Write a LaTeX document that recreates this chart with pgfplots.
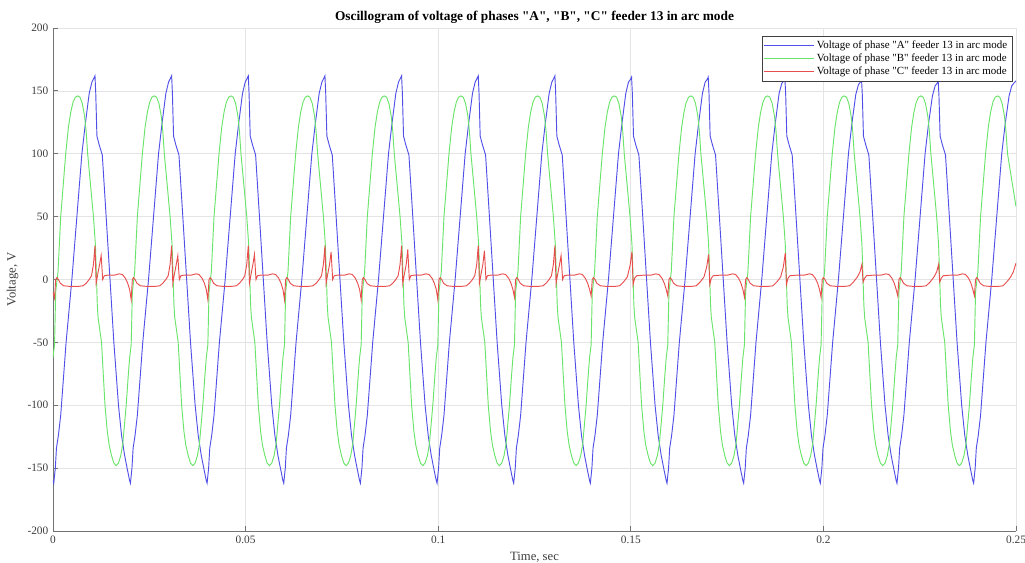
\documentclass[border=0pt]{standalone}
\usepackage{fontspec}
\setmainfont{Liberation Serif}[Ligatures=TeXOff]
\usepackage{pgfplots}
\pgfplotsset{compat=1.18}

\definecolor{phA}{RGB}{80,80,232}
\definecolor{phB}{RGB}{105,228,105}
\definecolor{phC}{RGB}{232,78,78}
\definecolor{gridc}{RGB}{228,228,228}
\definecolor{axc}{RGB}{115,115,115}
\definecolor{txt}{RGB}{60,60,60}

\begin{document}
\begin{tikzpicture}
\begin{axis}[
    scale only axis, width=722.25pt, height=377.25pt,
    xmin=0, xmax=0.25, ymin=-200, ymax=200,
    xtick={0,0.05,0.1,0.15,0.2,0.25},
    xticklabels={0,0.05,0.1,0.15,0.2,0.25},
    ytick={-200,-150,-100,-50,0,50,100,150,200},
    /pgf/number format/assume math mode=true,
    grid=major, major grid style={gridc, line width=0.5pt},
    axis x line*=bottom, axis y line*=left,
    axis line style={axc, line width=0.6pt},
    tick align=inside, major tick length=4pt, tick style={axc, line width=0.6pt},
    tick label style={font=\fontsize{8.5}{10}\selectfont, text=txt},
    title={Oscillogram of voltage of phases "A", "B", "C" feeder 13 in arc mode},
    title style={font=\bfseries\fontsize{10}{12}\selectfont, yshift=-6pt},
    xlabel={Time, sec}, ylabel={Voltage, V},
    label style={font=\fontsize{9.5}{11}\selectfont, text=txt},
    legend style={at={(0.996,0.984)}, anchor=north east, draw=black!75,
        font=\fontsize{8.2}{9.5}\selectfont, inner sep=1.5pt, row sep=-1.5pt},
    legend cell align=left,
    legend image code/.code={\draw[#1, line width=0.7pt] (0pt,0pt) -- (37pt,0pt);},
    every axis plot/.append style={line width=0.7pt},
]
% phase A
\addplot[phA] coordinates {
(0.0000,-160) (0.0002,-162) (0.0006,-150) (0.0009,-134) (0.0014,-124) (0.0020,-108) (0.0034,-50) (0.0049,0) (0.0062,50) (0.0075,100) (0.0084,124) (0.0094,148) (0.0101,157) (0.0106,160) (0.0109,162) (0.0111,148) (0.0114,114) (0.0120,107) (0.0128,99) (0.0138,50) (0.0148,0) (0.0158,-50) (0.0170,-100) (0.0178,-124) (0.0186,-140) (0.0193,-151) (0.0199,-160)
(0.0201,-162) (0.0205,-150) (0.0208,-134) (0.0213,-124) (0.0219,-108) (0.0233,-50) (0.0248,0) (0.0261,50) (0.0274,100) (0.0283,124) (0.0293,148) (0.0300,157) (0.0305,160) (0.0308,162) (0.0310,148) (0.0313,114) (0.0319,107) (0.0327,99) (0.0337,50) (0.0347,0) (0.0357,-50) (0.0369,-100) (0.0377,-124) (0.0385,-140) (0.0392,-151) (0.0398,-160)
(0.0400,-162) (0.0404,-150) (0.0407,-134) (0.0412,-124) (0.0418,-108) (0.0432,-50) (0.0447,0) (0.0460,50) (0.0473,100) (0.0482,124) (0.0492,148) (0.0499,157) (0.0504,160) (0.0507,162) (0.0509,148) (0.0512,114) (0.0518,107) (0.0526,99) (0.0536,50) (0.0546,0) (0.0556,-50) (0.0568,-100) (0.0576,-124) (0.0584,-140) (0.0591,-151) (0.0597,-160)
(0.0599,-162) (0.0603,-150) (0.0606,-134) (0.0611,-124) (0.0617,-108) (0.0631,-50) (0.0646,0) (0.0659,50) (0.0672,100) (0.0681,124) (0.0691,148) (0.0698,157) (0.0703,160) (0.0706,162) (0.0708,148) (0.0711,114) (0.0717,107) (0.0725,99) (0.0735,50) (0.0745,0) (0.0755,-50) (0.0767,-100) (0.0775,-124) (0.0783,-140) (0.0790,-151) (0.0796,-160)
(0.0798,-162) (0.0802,-150) (0.0805,-134) (0.0810,-124) (0.0816,-108) (0.0830,-50) (0.0845,0) (0.0858,50) (0.0871,100) (0.0880,124) (0.0890,148) (0.0897,157) (0.0902,160) (0.0905,162) (0.0907,148) (0.0910,114) (0.0916,107) (0.0924,99) (0.0934,50) (0.0944,0) (0.0954,-50) (0.0966,-100) (0.0974,-124) (0.0982,-140) (0.0989,-151) (0.0995,-160)
(0.0997,-162) (0.1001,-150) (0.1004,-134) (0.1009,-124) (0.1015,-108) (0.1029,-50) (0.1044,0) (0.1057,50) (0.1070,100) (0.1079,124) (0.1089,148) (0.1096,157) (0.1101,160) (0.1104,162) (0.1106,148) (0.1109,114) (0.1115,107) (0.1123,99) (0.1133,50) (0.1143,0) (0.1153,-50) (0.1165,-100) (0.1173,-124) (0.1181,-140) (0.1188,-151) (0.1194,-160)
(0.1196,-162) (0.1200,-150) (0.1203,-134) (0.1208,-124) (0.1214,-108) (0.1228,-50) (0.1243,0) (0.1256,50) (0.1269,100) (0.1278,124) (0.1288,148) (0.1295,157) (0.1300,160) (0.1303,162) (0.1305,148) (0.1308,114) (0.1314,107) (0.1322,99) (0.1332,50) (0.1342,0) (0.1352,-50) (0.1364,-100) (0.1372,-124) (0.1380,-140) (0.1387,-151) (0.1393,-160)
(0.1395,-162) (0.1399,-150) (0.1402,-134) (0.1407,-124) (0.1413,-108) (0.1427,-50) (0.1442,0) (0.1455,50) (0.1468,100) (0.1477,124) (0.1487,148) (0.1494,157) (0.1499,159) (0.1502,161) (0.1504,148) (0.1507,114) (0.1513,107) (0.1521,99) (0.1531,50) (0.1541,0) (0.1551,-50) (0.1563,-100) (0.1571,-124) (0.1579,-140) (0.1586,-151) (0.1592,-160)
(0.1594,-162) (0.1598,-150) (0.1601,-134) (0.1606,-124) (0.1612,-108) (0.1626,-50) (0.1641,0) (0.1654,50) (0.1667,100) (0.1676,124) (0.1686,148) (0.1693,157) (0.1698,159) (0.1701,161) (0.1703,148) (0.1706,114) (0.1712,107) (0.1720,99) (0.1730,50) (0.1740,0) (0.1750,-50) (0.1762,-100) (0.1770,-124) (0.1778,-140) (0.1785,-151) (0.1791,-160)
(0.1793,-162) (0.1797,-150) (0.1800,-134) (0.1805,-124) (0.1811,-108) (0.1825,-50) (0.1840,0) (0.1853,50) (0.1866,100) (0.1875,124) (0.1885,148) (0.1892,156) (0.1897,158) (0.1900,160) (0.1902,148) (0.1905,114) (0.1911,107) (0.1919,99) (0.1929,50) (0.1939,0) (0.1949,-50) (0.1961,-100) (0.1969,-124) (0.1977,-140) (0.1984,-151) (0.1990,-160)
(0.1992,-162) (0.1996,-150) (0.1999,-134) (0.2004,-124) (0.2010,-108) (0.2024,-50) (0.2039,0) (0.2052,50) (0.2065,100) (0.2074,124) (0.2084,147) (0.2091,155) (0.2096,157) (0.2099,159) (0.2101,147) (0.2104,114) (0.2110,107) (0.2118,99) (0.2128,50) (0.2138,0) (0.2148,-50) (0.2160,-100) (0.2168,-124) (0.2176,-140) (0.2183,-151) (0.2189,-160)
(0.2191,-162) (0.2195,-150) (0.2198,-134) (0.2203,-124) (0.2209,-108) (0.2223,-50) (0.2238,0) (0.2251,50) (0.2264,100) (0.2273,124) (0.2283,146) (0.2290,154) (0.2295,156) (0.2298,158) (0.2300,146) (0.2303,114) (0.2309,107) (0.2317,99) (0.2327,50) (0.2337,0) (0.2347,-50) (0.2359,-100) (0.2367,-124) (0.2375,-140) (0.2382,-151) (0.2388,-160)
(0.2390,-162) (0.2394,-150) (0.2397,-134) (0.2402,-124) (0.2408,-108) (0.2422,-50) (0.2437,0) (0.2450,50) (0.2463,100) (0.2472,124) (0.2482,146) (0.2489,154) (0.2494,156) (0.2500,158)
};
\addlegendentry{Voltage of phase "A" feeder 13 in arc mode}
% phase B
\addplot[phB] coordinates {
(0.0000,-62) (0.0004,-52) (0.0007,-10) (0.0010,-2) (0.0013,6) (0.0020,50) (0.0033,100) (0.0040,121) (0.0046,133) (0.0052,141) (0.0058,145) (0.0064,146) (0.0070,145) (0.0076,140) (0.0082,130) (0.0086,118) (0.0090,100) (0.0105,50) (0.0110,28) (0.0112,10) (0.0115,-20) (0.0117,-30) (0.0126,-50) (0.0131,-78) (0.0135,-100) (0.0141,-121) (0.0146,-132) (0.0152,-140) (0.0158,-146) (0.0164,-148) (0.0170,-146) (0.0176,-140) (0.0181,-131) (0.0184,-121) (0.0190,-100) (0.0195,-78)
(0.0199,-62) (0.0203,-52) (0.0206,-10) (0.0209,-2) (0.0212,6) (0.0219,50) (0.0232,100) (0.0239,121) (0.0245,133) (0.0251,141) (0.0257,145) (0.0263,146) (0.0269,145) (0.0275,140) (0.0281,130) (0.0285,118) (0.0289,100) (0.0304,50) (0.0309,28) (0.0311,10) (0.0314,-20) (0.0316,-30) (0.0325,-50) (0.0330,-78) (0.0334,-100) (0.0340,-121) (0.0345,-132) (0.0351,-140) (0.0357,-146) (0.0363,-148) (0.0369,-146) (0.0375,-140) (0.0380,-131) (0.0383,-121) (0.0389,-100) (0.0394,-78)
(0.0398,-62) (0.0402,-52) (0.0405,-10) (0.0408,-2) (0.0411,6) (0.0418,50) (0.0431,100) (0.0438,121) (0.0444,133) (0.0450,141) (0.0456,145) (0.0462,146) (0.0468,145) (0.0474,140) (0.0480,130) (0.0484,118) (0.0488,100) (0.0503,50) (0.0508,28) (0.0510,10) (0.0513,-20) (0.0515,-30) (0.0524,-50) (0.0529,-78) (0.0533,-100) (0.0539,-121) (0.0544,-132) (0.0550,-140) (0.0556,-146) (0.0562,-148) (0.0568,-146) (0.0574,-140) (0.0579,-131) (0.0582,-121) (0.0588,-100) (0.0593,-78)
(0.0597,-62) (0.0601,-52) (0.0604,-10) (0.0607,-2) (0.0610,6) (0.0617,50) (0.0630,100) (0.0637,121) (0.0643,133) (0.0649,141) (0.0655,145) (0.0661,146) (0.0667,145) (0.0673,140) (0.0679,130) (0.0683,118) (0.0687,100) (0.0702,50) (0.0707,28) (0.0709,10) (0.0712,-20) (0.0714,-30) (0.0723,-50) (0.0728,-78) (0.0732,-100) (0.0738,-121) (0.0743,-132) (0.0749,-140) (0.0755,-146) (0.0761,-148) (0.0767,-146) (0.0773,-140) (0.0778,-131) (0.0781,-121) (0.0787,-100) (0.0792,-78)
(0.0796,-62) (0.0800,-52) (0.0803,-10) (0.0806,-2) (0.0809,6) (0.0816,50) (0.0829,100) (0.0836,121) (0.0842,133) (0.0848,141) (0.0854,145) (0.0860,146) (0.0866,145) (0.0872,140) (0.0878,130) (0.0882,118) (0.0886,100) (0.0901,50) (0.0906,28) (0.0908,10) (0.0911,-20) (0.0913,-30) (0.0922,-50) (0.0927,-78) (0.0931,-100) (0.0937,-121) (0.0942,-132) (0.0948,-140) (0.0954,-146) (0.0960,-148) (0.0966,-146) (0.0972,-140) (0.0977,-131) (0.0980,-121) (0.0986,-100) (0.0991,-78)
(0.0995,-62) (0.0999,-52) (0.1002,-10) (0.1005,-2) (0.1008,6) (0.1015,50) (0.1028,100) (0.1035,121) (0.1041,133) (0.1047,141) (0.1053,145) (0.1059,146) (0.1065,145) (0.1071,140) (0.1077,130) (0.1081,118) (0.1085,100) (0.1100,50) (0.1105,28) (0.1107,10) (0.1110,-20) (0.1112,-30) (0.1121,-50) (0.1126,-78) (0.1130,-100) (0.1136,-121) (0.1141,-132) (0.1147,-140) (0.1153,-146) (0.1159,-148) (0.1165,-146) (0.1171,-140) (0.1176,-131) (0.1179,-121) (0.1185,-100) (0.1190,-78)
(0.1194,-62) (0.1198,-52) (0.1201,-10) (0.1204,-2) (0.1207,6) (0.1214,50) (0.1227,100) (0.1234,121) (0.1240,133) (0.1246,141) (0.1252,145) (0.1258,146) (0.1264,145) (0.1270,140) (0.1276,130) (0.1280,118) (0.1284,100) (0.1299,50) (0.1304,28) (0.1306,10) (0.1309,-20) (0.1311,-30) (0.1320,-50) (0.1325,-78) (0.1329,-100) (0.1335,-121) (0.1340,-132) (0.1346,-140) (0.1352,-146) (0.1358,-148) (0.1364,-146) (0.1370,-140) (0.1375,-131) (0.1378,-121) (0.1384,-100) (0.1389,-78)
(0.1393,-62) (0.1397,-52) (0.1400,-10) (0.1403,-2) (0.1406,6) (0.1413,50) (0.1426,100) (0.1433,121) (0.1439,133) (0.1445,141) (0.1451,145) (0.1457,146) (0.1463,145) (0.1469,140) (0.1475,130) (0.1479,118) (0.1483,100) (0.1498,50) (0.1503,28) (0.1505,10) (0.1508,-20) (0.1510,-30) (0.1519,-50) (0.1524,-78) (0.1528,-100) (0.1534,-121) (0.1539,-132) (0.1545,-140) (0.1551,-146) (0.1557,-148) (0.1563,-146) (0.1569,-140) (0.1574,-131) (0.1577,-121) (0.1583,-100) (0.1588,-78)
(0.1592,-62) (0.1596,-52) (0.1599,-10) (0.1602,-2) (0.1605,6) (0.1612,50) (0.1625,100) (0.1632,121) (0.1638,133) (0.1644,141) (0.1650,145) (0.1656,146) (0.1662,145) (0.1668,140) (0.1674,130) (0.1678,118) (0.1682,100) (0.1697,50) (0.1702,28) (0.1704,10) (0.1707,-20) (0.1709,-30) (0.1718,-50) (0.1723,-78) (0.1727,-100) (0.1733,-121) (0.1738,-132) (0.1744,-140) (0.1750,-146) (0.1756,-148) (0.1762,-146) (0.1768,-140) (0.1773,-131) (0.1776,-121) (0.1782,-100) (0.1787,-78)
(0.1791,-62) (0.1795,-52) (0.1798,-10) (0.1801,-2) (0.1804,6) (0.1811,50) (0.1824,100) (0.1831,121) (0.1837,133) (0.1843,141) (0.1849,145) (0.1855,146) (0.1861,145) (0.1867,140) (0.1873,130) (0.1877,118) (0.1881,100) (0.1896,50) (0.1901,28) (0.1903,10) (0.1906,-20) (0.1908,-30) (0.1917,-50) (0.1922,-78) (0.1926,-100) (0.1932,-121) (0.1937,-132) (0.1943,-140) (0.1949,-146) (0.1955,-148) (0.1961,-146) (0.1967,-140) (0.1972,-131) (0.1975,-121) (0.1981,-100) (0.1986,-78)
(0.1990,-62) (0.1994,-52) (0.1997,-10) (0.2000,-2) (0.2003,6) (0.2010,50) (0.2023,100) (0.2030,121) (0.2036,133) (0.2042,141) (0.2048,145) (0.2054,146) (0.2060,145) (0.2066,140) (0.2072,130) (0.2076,118) (0.2080,100) (0.2095,50) (0.2100,28) (0.2102,10) (0.2105,-20) (0.2107,-30) (0.2116,-50) (0.2121,-78) (0.2125,-100) (0.2131,-121) (0.2136,-132) (0.2142,-140) (0.2148,-146) (0.2154,-148) (0.2160,-146) (0.2166,-140) (0.2171,-131) (0.2174,-121) (0.2180,-100) (0.2185,-78)
(0.2189,-62) (0.2193,-52) (0.2196,-10) (0.2199,-2) (0.2202,6) (0.2209,50) (0.2222,100) (0.2229,121) (0.2235,133) (0.2241,141) (0.2247,145) (0.2253,146) (0.2259,145) (0.2265,140) (0.2271,130) (0.2275,118) (0.2279,100) (0.2294,50) (0.2299,28) (0.2301,10) (0.2304,-20) (0.2306,-30) (0.2315,-50) (0.2320,-78) (0.2324,-100) (0.2330,-121) (0.2335,-132) (0.2341,-140) (0.2347,-146) (0.2353,-148) (0.2359,-146) (0.2365,-140) (0.2370,-131) (0.2373,-121) (0.2379,-100) (0.2384,-78)
(0.2388,-62) (0.2392,-52) (0.2395,-10) (0.2398,-2) (0.2401,6) (0.2408,50) (0.2421,100) (0.2428,121) (0.2434,133) (0.2440,141) (0.2446,145) (0.2452,146) (0.2458,145) (0.2464,140) (0.2470,130) (0.2474,118) (0.2478,100) (0.2500,58)
};
\addlegendentry{Voltage of phase "B" feeder 13 in arc mode}
% phase C
\addplot[phC] coordinates {
(0.0000,-10) (0.0004,-15) (0.0007,0) (0.0010,1.5) (0.0014,0) (0.0019,-3) (0.0028,-5) (0.0045,-5.5) (0.0065,-5.5) (0.0078,-5) (0.0086,-3) (0.0094,0) (0.0100,3) (0.0105,12) (0.0109,27) (0.0112,-3) (0.0116,4) (0.0121,12) (0.0125,19) (0.0129,0) (0.0133,3) (0.0142,3.5) (0.0160,3.5) (0.0172,4.5) (0.0180,4) (0.0188,1) (0.0194,-3)
(0.0199,-8) (0.0203,-16) (0.0206,0) (0.0209,1.5) (0.0213,0) (0.0218,-3) (0.0227,-5) (0.0244,-5.5) (0.0264,-5.5) (0.0277,-5) (0.0285,-3) (0.0293,0) (0.0299,3) (0.0304,12) (0.0308,27) (0.0311,-3) (0.0315,4) (0.0320,12) (0.0324,19) (0.0328,0) (0.0332,3) (0.0341,3.5) (0.0359,3.5) (0.0371,4.5) (0.0379,4) (0.0387,1) (0.0393,-3)
(0.0398,-8) (0.0402,-16) (0.0405,0) (0.0408,1.5) (0.0412,0) (0.0417,-3) (0.0426,-5) (0.0443,-5.5) (0.0463,-5.5) (0.0476,-5) (0.0484,-3) (0.0492,0) (0.0498,3) (0.0503,12) (0.0507,27) (0.0510,-3) (0.0514,4) (0.0519,12) (0.0523,20) (0.0527,0) (0.0531,3) (0.0540,3.5) (0.0558,3.5) (0.0570,4.5) (0.0578,4) (0.0586,1) (0.0592,-3)
(0.0597,-8) (0.0601,-16) (0.0604,0) (0.0607,1.5) (0.0611,0) (0.0616,-3) (0.0625,-5) (0.0642,-5.5) (0.0662,-5.5) (0.0675,-5) (0.0683,-3) (0.0691,0) (0.0697,3) (0.0702,12) (0.0706,27) (0.0709,-3) (0.0713,4) (0.0718,12) (0.0722,22) (0.0726,0) (0.0730,3) (0.0739,3.5) (0.0757,3.5) (0.0769,4.5) (0.0777,4) (0.0785,1) (0.0791,-3)
(0.0796,-8) (0.0800,-16) (0.0803,0) (0.0806,1.5) (0.0810,0) (0.0815,-3) (0.0824,-5) (0.0841,-5.5) (0.0861,-5.5) (0.0874,-5) (0.0882,-3) (0.0890,0) (0.0896,3) (0.0901,12) (0.0905,27) (0.0908,-3) (0.0912,4) (0.0917,12) (0.0921,24) (0.0925,0) (0.0929,3) (0.0938,3.5) (0.0956,3.5) (0.0968,4.5) (0.0976,4) (0.0984,1) (0.0990,-3)
(0.0995,-8) (0.0999,-16) (0.1002,0) (0.1005,1.5) (0.1009,0) (0.1014,-3) (0.1023,-5) (0.1040,-5.5) (0.1060,-5.5) (0.1073,-5) (0.1081,-3) (0.1089,0) (0.1095,3) (0.1100,12) (0.1104,27) (0.1107,-3) (0.1111,4) (0.1116,12) (0.1120,23) (0.1124,0) (0.1128,3) (0.1137,3.5) (0.1155,3.5) (0.1167,4.5) (0.1175,4) (0.1183,1) (0.1189,-3)
(0.1194,-8) (0.1198,-14) (0.1201,0) (0.1204,1.5) (0.1208,0) (0.1213,-3) (0.1222,-5) (0.1239,-5.5) (0.1259,-5.5) (0.1272,-5) (0.1280,-3) (0.1288,0) (0.1294,3) (0.1299,12) (0.1303,27) (0.1306,-3) (0.1310,4) (0.1315,12) (0.1319,19) (0.1323,0) (0.1327,3) (0.1336,3.5) (0.1354,3.5) (0.1366,4.5) (0.1374,4) (0.1382,1) (0.1388,-3)
(0.1393,-8) (0.1397,-13) (0.1400,0) (0.1403,1.5) (0.1407,0) (0.1412,-3) (0.1421,-5) (0.1438,-5.5) (0.1458,-5.5) (0.1471,-5) (0.1481,-2) (0.1491,2) (0.1498,11) (0.1503,22) (0.1506,-4) (0.1510,1) (0.1515,3) (0.1535,3.5) (0.1553,3.5) (0.1565,4.5) (0.1573,4) (0.1581,1) (0.1587,-3)
(0.1592,-8) (0.1596,-13) (0.1599,0) (0.1602,1.5) (0.1606,0) (0.1611,-3) (0.1620,-5) (0.1637,-5.5) (0.1657,-5.5) (0.1670,-5) (0.1680,-2) (0.1690,2) (0.1697,10) (0.1702,20) (0.1705,-4) (0.1709,1) (0.1714,3) (0.1734,3.5) (0.1752,3.5) (0.1764,4.5) (0.1772,4) (0.1780,1) (0.1786,-3)
(0.1791,-8) (0.1795,-14) (0.1798,0) (0.1801,1.5) (0.1805,0) (0.1810,-3) (0.1819,-5) (0.1836,-5.5) (0.1856,-5.5) (0.1869,-5) (0.1879,-2) (0.1889,2) (0.1896,10) (0.1901,21) (0.1904,-4) (0.1908,1) (0.1913,3) (0.1933,3.5) (0.1951,3.5) (0.1963,4.5) (0.1971,4) (0.1979,1) (0.1985,-3)
(0.1990,-8) (0.1994,-14) (0.1997,0) (0.2000,1.5) (0.2004,0) (0.2009,-3) (0.2018,-5) (0.2035,-5.5) (0.2055,-5.5) (0.2068,-5) (0.2078,-2) (0.2088,2) (0.2095,6) (0.2100,12) (0.2103,-2) (0.2107,1) (0.2112,3) (0.2132,3.5) (0.2150,3.5) (0.2162,4.5) (0.2170,4) (0.2178,1) (0.2184,-3)
(0.2189,-8) (0.2193,-13) (0.2196,0) (0.2199,1.5) (0.2203,0) (0.2208,-3) (0.2217,-5) (0.2234,-5.5) (0.2254,-5.5) (0.2267,-5) (0.2277,-2) (0.2287,2) (0.2294,6) (0.2299,12) (0.2302,-2) (0.2306,1) (0.2311,3) (0.2331,3.5) (0.2349,3.5) (0.2361,4.5) (0.2369,4) (0.2377,1) (0.2383,-3)
(0.2388,-8) (0.2392,-13) (0.2395,0) (0.2398,1.5) (0.2402,0) (0.2407,-3) (0.2416,-5) (0.2433,-5.5) (0.2453,-5.5) (0.2466,-5) (0.2476,-2) (0.2486,2) (0.2493,6) (0.2500,13)
};
\addlegendentry{Voltage of phase "C" feeder 13 in arc mode}
\end{axis}
\pgfresetboundingbox
\path[use as bounding box] (-39.75pt,-23.25pt) rectangle (729pt,398.25pt);
\end{tikzpicture}
\end{document}
